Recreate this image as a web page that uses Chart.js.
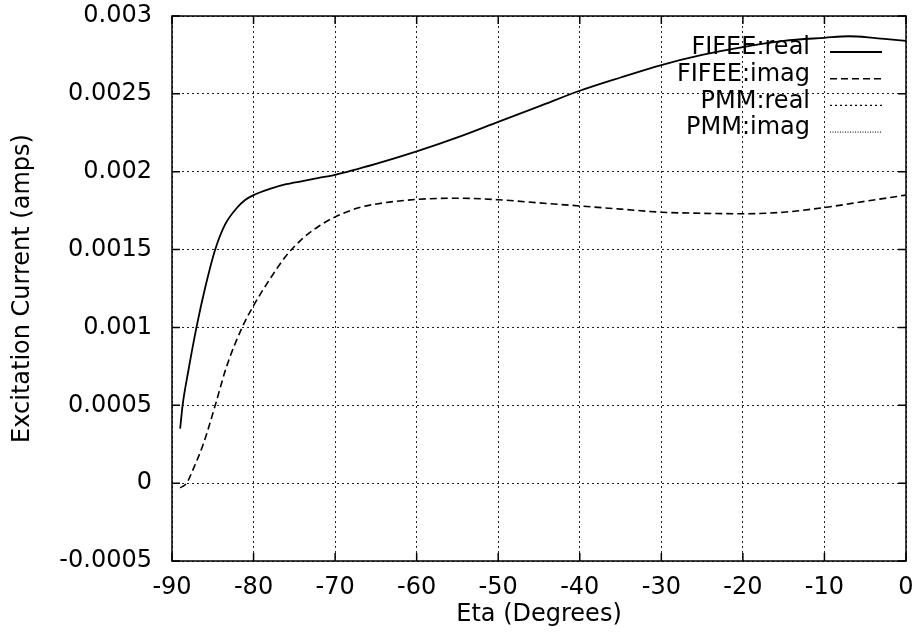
<!DOCTYPE html>
<html>
<head>
<meta charset="utf-8">
<script src="https://cdn.jsdelivr.net/npm/chart.js@4"></script>
<style>
  html, body { margin: 0; padding: 0; background: #fff; }
  #wrap { width: 922px; height: 637px; }
</style>
</head>
<body>
<div id="wrap"><canvas id="myChart"></canvas></div>
<script>
const etaReal = [-89, -88.7, -88, -87, -86, -84.7, -83.5, -82, -81, -80, -78, -76, -74, -72, -70, -65, -60, -55, -50, -45, -40, -35, -30, -25, -20, -15, -10, -7, -4, -2, 0];
const fifeeReal = [0.00035, 0.0005, 0.00072, 0.001, 0.00124, 0.0015, 0.00166, 0.00177, 0.00182, 0.00185, 0.00189, 0.00192, 0.00194, 0.00196, 0.00198, 0.00205, 0.00213, 0.00222, 0.00232, 0.00242, 0.00252, 0.002605, 0.002685, 0.00275, 0.0028, 0.00284, 0.00286, 0.00287, 0.00286, 0.00285, 0.00284];

const etaImag = [-89, -88.2, -87.4, -86.1, -84.7, -83.3, -81.4, -80, -78, -76, -74, -72, -70, -67, -64, -60, -55, -50, -45, -40, -35, -30, -25, -20, -15, -10, -5, 0];
const fifeeImag = [-0.00003, 0, 0.00009, 0.00026, 0.0005, 0.00075, 0.001, 0.00114, 0.00131, 0.00146, 0.00157, 0.00165, 0.00171, 0.00177, 0.0018, 0.001822, 0.00183, 0.00182, 0.0018, 0.00178, 0.00176, 0.00174, 0.001733, 0.00173, 0.00174, 0.00177, 0.00181, 0.00185];

// PMM curves are not visible apart from the legend
const pmmReal = [];
const pmmImag = [];

const yTickLabels = ["-0.0005", "0", "0.0005", "0.001", "0.0015", "0.002", "0.0025", "0.003"];
const xTickLabels = ["-90", "-80", "-70", "-60", "-50", "-40", "-30", "-20", "-10", "0"];

const FONT = "'DejaVu Sans', sans-serif";

function pts(xs, ys) {
  return ys.map((y, i) => ({ x: xs[i], y: y }));
}

// gnuplot style key, text right aligned with sample line on the right
const keyPlugin = {
  id: "gnukey",
  afterDatasetsDraw(chart) {
    const ctx = chart.ctx;
    const textRight = 810;
    const sx0 = 830, sx1 = 882;
    const top = 48, step = 26.7;
    ctx.save();
    ctx.font = "24px " + FONT;
    ctx.fillStyle = "#000";
    ctx.textAlign = "right";
    ctx.textBaseline = "middle";
    chart.data.datasets.forEach((ds, i) => {
      const y = top + i * step;
      ctx.fillText(ds.label, textRight, y);
      ctx.beginPath();
      ctx.setLineDash(ds.borderDash || []);
      ctx.lineWidth = ds.keyWidth || 1.2;
      ctx.strokeStyle = "#000";
      ctx.moveTo(sx0, y + 4);
      ctx.lineTo(sx1, y + 4);
      ctx.stroke();
    });
    ctx.restore();
  },
};

// frame plus small inward tick marks on all four sides
const borderPlugin = {
  id: "box",
  afterDatasetsDraw(chart) {
    const a = chart.chartArea;
    const ctx = chart.ctx;
    const xs = chart.scales.x, ys = chart.scales.y;
    const len = 8;
    ctx.save();
    ctx.strokeStyle = "#000";
    ctx.lineWidth = 1.5;
    ctx.setLineDash([]);
    ctx.strokeRect(a.left, a.top, a.right - a.left, a.bottom - a.top);
    ctx.beginPath();
    xs.ticks.forEach((t) => {
      const px = xs.getPixelForValue(t.value);
      ctx.moveTo(px, a.bottom); ctx.lineTo(px, a.bottom - len);
      ctx.moveTo(px, a.top); ctx.lineTo(px, a.top + len);
    });
    ys.ticks.forEach((t) => {
      const py = ys.getPixelForValue(t.value);
      ctx.moveTo(a.left, py); ctx.lineTo(a.left + len, py);
      ctx.moveTo(a.right, py); ctx.lineTo(a.right - len, py);
    });
    ctx.stroke();
    ctx.restore();
  },
};

const config = {
  type: "line",
  data: {
    datasets: [
      {
        label: "FIFEE:real",
        data: pts(etaReal, fifeeReal),
        borderColor: "#000",
        borderWidth: 1.8,
        keyWidth: 1.8,
        pointRadius: 0,
        cubicInterpolationMode: "monotone",
      },
      {
        label: "FIFEE:imag",
        data: pts(etaImag, fifeeImag),
        borderColor: "#000",
        borderWidth: 1.6,
        borderDash: [7, 4],
        keyWidth: 1.4,
        pointRadius: 0,
        cubicInterpolationMode: "monotone",
      },
      {
        label: "PMM:real",
        data: pmmReal,
        borderColor: "#000",
        borderWidth: 1.2,
        borderDash: [2, 3],
        pointRadius: 0,
      },
      {
        label: "PMM:imag",
        data: pmmImag,
        borderColor: "#000",
        borderWidth: 1,
        borderDash: [1, 1.5],
        keyWidth: 1,
        pointRadius: 0,
      },
    ],
  },
  options: {
    responsive: true,
    maintainAspectRatio: false,
    animation: false,
    layout: { padding: { top: 16, right: 16, left: 0, bottom: 0 } },
    plugins: {
      legend: { display: false },
      tooltip: { enabled: false },
    },
    scales: {
      x: {
        type: "linear",
        min: -90,
        max: 0,
        afterFit: (s) => {
          s.height = 76;
          s.paddingLeft = 0;
          s.paddingRight = 0;
        },
        afterBuildTicks: (s) => {
          s.ticks = xTickLabels.map((t) => ({ value: Number(t) }));
        },
        border: { display: false, dash: [2, 3] },
        grid: {
          color: "#222",
          lineWidth: 1,
          drawTicks: false,
        },
        ticks: {
          padding: 12,
          color: "#000",
          font: { family: FONT, size: 24 },
          maxRotation: 0,
          callback: (v, i) => xTickLabels[i],
        },
        title: {
          display: true,
          text: "Eta (Degrees)",
          color: "#000",
          font: { family: FONT, size: 24 },
          padding: { top: 0, bottom: 8 },
        },
      },
      y: {
        type: "linear",
        min: -0.0005,
        max: 0.003,
        afterFit: (s) => {
          s.width = 172;
          s.paddingTop = 0;
          s.paddingBottom = 0;
        },
        afterBuildTicks: (s) => {
          s.ticks = yTickLabels.map((t) => ({ value: Number(t) }));
        },
        border: { display: false, dash: [2, 3] },
        grid: {
          color: "#222",
          lineWidth: 1,
          drawTicks: false,
        },
        ticks: {
          padding: 20,
          color: "#000",
          font: { family: FONT, size: 24 },
          callback: (v, i) => yTickLabels[i],
        },
        title: {
          display: true,
          text: "Excitation Current (amps)",
          color: "#000",
          font: { family: FONT, size: 24 },
          padding: { top: 8, bottom: 0 },
        },
      },
    },
  },
  plugins: [keyPlugin, borderPlugin],
};

new Chart(document.getElementById("myChart").getContext("2d"), config);
</script>
</body>
</html>
